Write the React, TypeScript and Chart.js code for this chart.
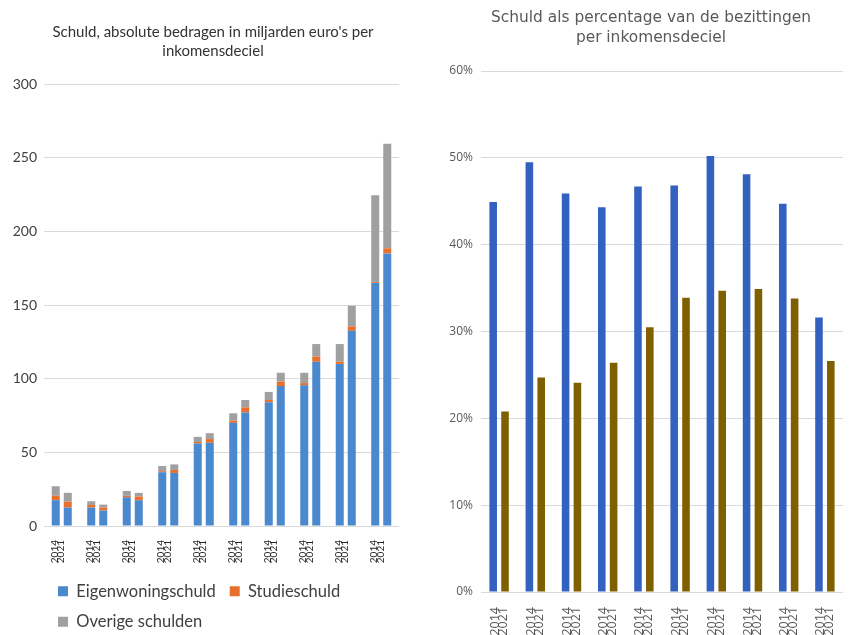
import React, { useEffect, useRef } from 'react';
import { Chart, registerables } from 'chart.js';

Chart.register(...registerables);

// Categories: income deciles, each with two years
const deciles = ['1', '2', '3', '4', '5', '6', '7', '8', '9', '10'];
const yearLabels = ['2014', '2021'];
const seriesNames = ['Eigenwoningschuld', 'Studieschuld', 'Overige schulden'];

// Left chart: debt in billions of euros (stacked)
const eigen2014 = [17.5, 12.5, 19.5, 36.5, 56, 70, 84, 95.5, 110, 165];
const studie2014 = [3, 1.8, 1, 0.7, 1, 1.5, 1.5, 1.5, 1.5, 0.5];
const overig2014 = [6.5, 2.5, 3.3, 3.5, 3.5, 5, 5.5, 7, 12, 59];
const eigen2021 = [12.5, 10.5, 17.5, 36, 56.5, 77, 95, 111.5, 132.5, 185];
const studie2021 = [4, 2, 2.5, 2, 2.5, 3.5, 3, 3.5, 3, 3.5];
const overig2021 = [6, 2, 2.5, 3.8, 4, 5, 6, 8.5, 14, 71];

// Right chart: debt as percentage of assets
const pct2014 = [44.9, 49.5, 45.9, 44.3, 46.7, 46.8, 50.2, 48.1, 44.7, 31.6];
const pct2021 = [20.8, 24.7, 24.1, 26.4, 30.5, 33.9, 34.7, 34.9, 33.8, 26.6];

const leftTitle = ["Schuld, absolute bedragen in miljarden euro's per", 'inkomensdeciel'];
const rightTitle = ['Schuld als percentage van de bezittingen', 'per inkomensdeciel'];

const absMax = 300;
const absStep = 50;
const pctMax = 60;
const pctStep = 10;

const blue = '#4b89cf';
const orange = '#e8702c';
const gray = '#a0a0a0';
const darkBlue = '#3361c0';
const brown = '#7f6000';

export default function App() {
  const leftRef = useRef<HTMLCanvasElement>(null);
  const rightRef = useRef<HTMLCanvasElement>(null);

  useEffect(() => {
    const barOptsLeft = { categoryPercentage: 0.677, barPercentage: 0.667, borderWidth: 0 };
    const left = new Chart(leftRef.current as HTMLCanvasElement, {
      type: 'bar',
      data: {
        labels: deciles,
        datasets: [
          { label: seriesNames[0], data: eigen2014, backgroundColor: blue, stack: '2014', ...barOptsLeft },
          { label: seriesNames[1], data: studie2014, backgroundColor: orange, stack: '2014', ...barOptsLeft },
          { label: seriesNames[2], data: overig2014, backgroundColor: gray, stack: '2014', ...barOptsLeft },
          { label: seriesNames[0], data: eigen2021, backgroundColor: blue, stack: '2021', ...barOptsLeft },
          { label: seriesNames[1], data: studie2021, backgroundColor: orange, stack: '2021', ...barOptsLeft },
          { label: seriesNames[2], data: overig2021, backgroundColor: gray, stack: '2021', ...barOptsLeft },
        ],
      },
      options: {
        responsive: false,
        animation: false,
        layout: { padding: 0 },
        plugins: {
          title: {
            display: true,
            text: leftTitle,
            color: '#333333',
            font: { family: 'Lato', size: 15, weight: 'normal', lineHeight: 19 / 15 },
            padding: { top: 23, bottom: 23 },
          },
          legend: {
            display: true,
            position: 'bottom',
            align: 'start',
            fullSize: false,
            labels: {
              filter: (item: any) => item.datasetIndex < 3,
              boxWidth: 10,
              boxHeight: 10,
              padding: 14,
              color: '#404040',
              font: { family: 'Lato', size: 16.5 },
            },
          },
          tooltip: { enabled: false },
        },
        scales: {
          x: {
            stacked: true,
            grid: { display: false },
            border: { display: false },
            ticks: {
              autoSkip: false,
              minRotation: 90,
              maxRotation: 90,
              padding: 6,
              labelOffset: -7,
              color: '#262626',
              font: { family: 'Lato', size: 10, lineHeight: 6.5 / 10 },
              callback: () => yearLabels,
            },
            afterFit: (s: any) => { s.height = 43; },
          },
          y: {
            stacked: true,
            min: 0,
            max: absMax,
            ticks: {
              stepSize: absStep,
              padding: 7,
              color: '#404040',
              font: { family: 'Lato', size: 14 },
            },
            grid: { color: '#d9d9d9', drawTicks: false },
            border: { display: false },
            afterFit: (s: any) => { s.width = 44; },
          },
          yR: {
            position: 'right',
            grid: { display: false },
            ticks: { display: false },
            border: { display: false },
            afterFit: (s: any) => { s.width = 27; },
          },
        },
      },
    } as any);

    const barOptsRight = { categoryPercentage: 0.654, barPercentage: 0.64, borderWidth: 0 };
    const right = new Chart(rightRef.current as HTMLCanvasElement, {
      type: 'bar',
      data: {
        labels: deciles,
        datasets: [
          { label: yearLabels[0], data: pct2014, backgroundColor: darkBlue, ...barOptsRight },
          { label: yearLabels[1], data: pct2021, backgroundColor: brown, ...barOptsRight },
        ],
      },
      options: {
        responsive: false,
        animation: false,
        layout: { padding: 0 },
        plugins: {
          title: {
            display: true,
            text: rightTitle,
            color: '#595959',
            font: { family: 'DejaVu Sans', size: 15.4, weight: 'normal', lineHeight: 20 / 15.4 },
            padding: { top: 8, bottom: 23 },
          },
          legend: { display: false },
          tooltip: { enabled: false },
        },
        scales: {
          x: {
            grid: { display: false },
            border: { display: false },
            ticks: {
              autoSkip: false,
              minRotation: 90,
              maxRotation: 90,
              padding: 7,
              labelOffset: -4,
              color: '#595959',
              font: { family: 'Open Sans', size: 12.5, lineHeight: 8.5 / 12.5 },
              callback: () => yearLabels,
            },
            afterFit: (s: any) => { s.height = 43; },
          },
          y: {
            min: 0,
            max: pctMax,
            ticks: {
              stepSize: pctStep,
              padding: 8,
              color: '#595959',
              font: { family: 'Open Sans', size: 12 },
              callback: (v: any) => v + '%',
            },
            grid: { color: '#d9d9d9', drawTicks: false },
            border: { display: false },
            afterFit: (s: any) => { s.width = 61; },
          },
          yR: {
            position: 'right',
            grid: { display: false },
            ticks: { display: false },
            border: { display: false },
            afterFit: (s: any) => { s.width = 39; },
          },
        },
      },
    } as any);

    return () => {
      left.destroy();
      right.destroy();
    };
  }, []);

  return (
    <div
      style={{
        position: 'absolute',
        left: 0,
        top: 0,
        width: 849,
        height: 635,
        overflow: 'hidden',
        background: '#ffffff',
      }}
    >
      <canvas ref={leftRef} width={426} height={640} style={{ position: 'absolute', left: 0, top: 0 }} />
      <canvas ref={rightRef} width={462} height={635} style={{ position: 'absolute', left: 420, top: 0 }} />
    </div>
  );
}
